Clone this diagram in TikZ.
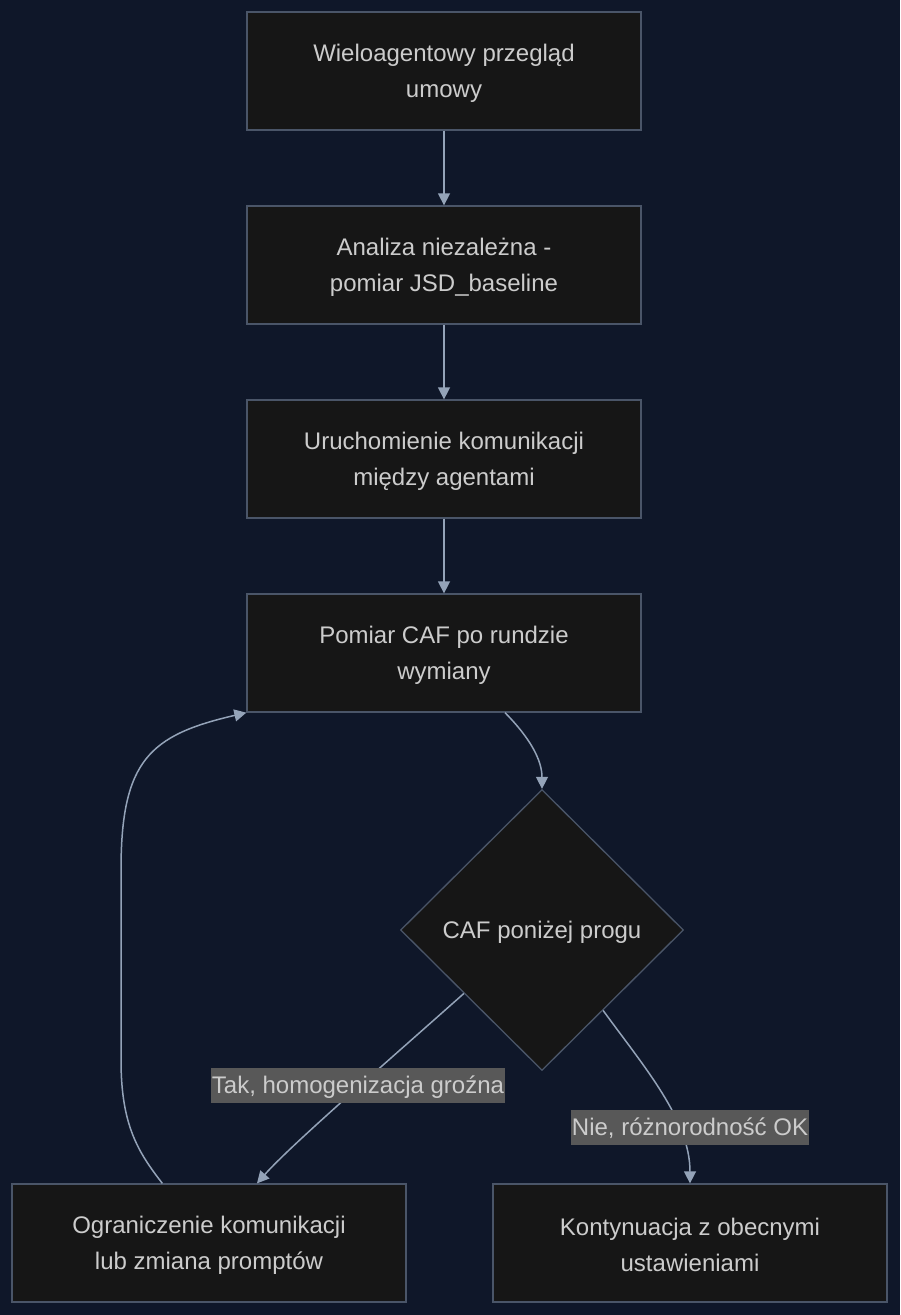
\documentclass[tikz,border=0pt]{standalone}
\usepackage{fontspec}
\setmainfont{Liberation Sans}
\usetikzlibrary{shapes.geometric,arrows.meta,calc}
\definecolor{bgc}{RGB}{15,23,41}
\definecolor{boxfill}{RGB}{22,22,22}
\definecolor{boxline}{RGB}{74,85,104}
\definecolor{edgec}{RGB}{148,163,184}
\definecolor{txtc}{RGB}{204,204,204}
\definecolor{lblbg}{RGB}{88,88,88}
\newcommand{\mytstrut}{\rule{0pt}{21pt}}
\tikzset{
  stepbox/.style={draw=boxline, fill=boxfill, line width=1.3pt, minimum width=394pt, minimum height=118pt,
    align=center, text=txtc, font=\fontsize{24pt}{36pt}\selectfont, inner sep=0pt},
  decisionbox/.style={shape=diamond, draw=boxline, fill=boxfill, line width=1.3pt, minimum width=283pt,
    minimum height=281pt, inner sep=0pt, text=txtc, font=\fontsize{24pt}{36pt}\selectfont,
    text height=19pt, text depth=3pt},
  edge/.style={draw=edgec, line width=1.5pt, -{Triangle[length=12pt,width=12pt]}},
  elabel/.style={fill=lblbg, text=txtc, font=\fontsize{24pt}{36pt}\selectfont, inner xsep=0.5pt,
    inner ysep=6.5pt, text height=19pt, text depth=3pt}
}
\begin{document}
\begin{tikzpicture}[x=1pt,y=-1pt]
\fill[bgc] (0,0) rectangle (900,1315);
\useasboundingbox (0,0) rectangle (900,1315);
\node[stepbox] (b1) at (444,71) {\mytstrut Wieloagentowy przegląd\\umowy};
\node[stepbox] (b2) at (444,265) {\mytstrut Analiza niezależna -\\pomiar JSD\_baseline};
\node[stepbox] (b3) at (444,459) {\mytstrut Uruchomienie komunikacji\\między agentami};
\node[stepbox] (b4) at (444,653) {\mytstrut Pomiar CAF po rundzie\\wymiany};
\node[decisionbox] (d) at (542,930) {CAF poniżej progu};
\node[stepbox] (b5) at (209,1243) {\mytstrut Ograniczenie komunikacji\\lub zmiana promptów};
\node[stepbox] (b6) at (690,1243) {\mytstrut Kontynuacja z obecnymi\\ustawieniami};

\draw[edge] (b1.south) -- (b2.north);
\draw[edge] (b2.south) -- (b3.north);
\draw[edge] (b3.south) -- (b4.north);
\draw[edge] ([xshift=61pt]b4.south) .. controls (530,738) and (542,760) .. (d.north);
\draw[edge] ($(d.west)!0.45!(d.south)$) .. controls (380,1068) and (290,1146) .. ([xshift=48pt]b5.north);
\draw[edge] ($(d.south)!0.43!(d.east)$) .. controls (645,1068) and (690,1120) .. (b6.north);
\draw[edge] ([xshift=151pt]b5.north west) .. controls (138,1152) and (121,1125) .. (121,1060)
  -- (121,870) .. controls (121,760) and (150,735) .. (b4.south west);

\node[elabel] (l1) at (358,1085) {Tak, homogenizacja groźna};
\node[elabel] (l2) at (690,1127) {Nie, różnorodność OK};
\end{tikzpicture}
\end{document}
